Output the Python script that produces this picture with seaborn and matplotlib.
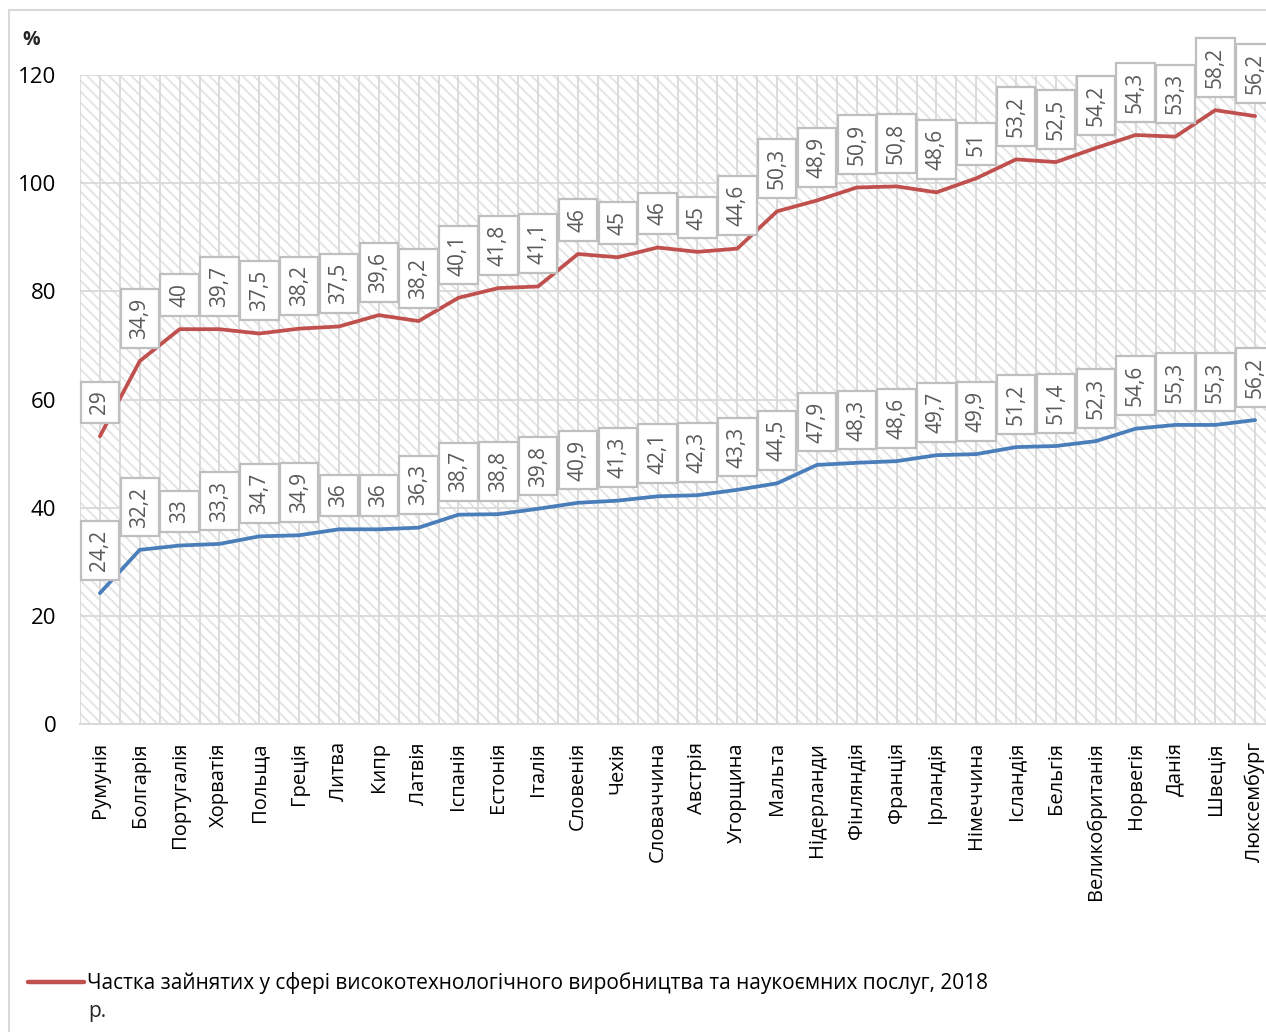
import numpy as np
import pandas as pd
import matplotlib
matplotlib.use("Agg")
import matplotlib.pyplot as plt
from matplotlib.lines import Line2D
from matplotlib.patches import Rectangle
import seaborn as sns

countries = ["Румунія", "Болгарія", "Португалія", "Хорватія", "Польща", "Греція",
             "Литва", "Кипр", "Латвія", "Іспанія", "Естонія", "Італія", "Словенія",
             "Чехія", "Словаччина", "Австрія", "Угорщина", "Мальта", "Нідерланди",
             "Фінляндія", "Франція", "Ірландія", "Німеччина", "Ісландія", "Бельгія",
             "Великобританія", "Норвегія", "Данія", "Швеція", "Люксембург"]

base_share = [24.2, 32.2, 33, 33.3, 34.7, 34.9, 36, 36, 36.3, 38.7, 38.8, 39.8,
              40.9, 41.3, 42.1, 42.3, 43.3, 44.5, 47.9, 48.3, 48.6, 49.7, 49.9,
              51.2, 51.4, 52.3, 54.6, 55.3, 55.3, 56.2]

hightech_share = [29, 34.9, 40, 39.7, 37.5, 38.2, 37.5, 39.6, 38.2, 40.1, 41.8,
                  41.1, 46, 45, 46, 45, 44.6, 50.3, 48.9, 50.9, 50.8, 48.6, 51,
                  53.2, 52.5, 54.2, 54.3, 53.3, 58.2, 56.2]

legend_label = "Частка зайнятих у сфері високотехнологічного виробництва та наукоємних послуг, 2018"
y_ticks = [0, 20, 40, 60, 80, 100, 120]

BLUE = "#4a7ebb"
RED = "#c0504d"
GRID = "#d9d9d9"
FONT = ["Open Sans", "DejaVu Sans"]

sns.set_theme(style="white")
plt.rcParams["font.family"] = FONT
plt.rcParams["hatch.linewidth"] = 1.3

df = pd.DataFrame({"pos": np.arange(len(countries)),
                   "country": countries,
                   "base": base_share,
                   "hightech": hightech_share})
df["stacked"] = df["base"] + df["hightech"]

W, H = 1266, 1032
fig = plt.figure(figsize=(W / 100, H / 100), dpi=100)
fig.patch.set_facecolor("white")

# light outer frame of the chart area
fig.add_artist(Rectangle((9 / W, -0.05), 1.1, 1 - 10 / H + 0.05, transform=fig.transFigure,
                         facecolor="none", edgecolor=GRID, linewidth=1.5))

ax = fig.add_axes([80 / W, 1 - 724 / H, (1275 - 80) / W, (724 - 75) / H])
ax.set_facecolor("white")
ax.add_patch(Rectangle((0, 0), 1, 1, transform=ax.transAxes, facecolor="white",
                       edgecolor="#e3e3e3", linewidth=0, hatch="\\\\\\", zorder=0.1))
ax.set_axisbelow(True)

sns.lineplot(data=df, x="pos", y="base", color=BLUE, linewidth=2.7, ax=ax, zorder=3)
sns.lineplot(data=df, x="pos", y="stacked", color=RED, linewidth=2.7, ax=ax, zorder=3)

ax.set_xlim(-0.5, len(countries) - 0.5)
ax.set_ylim(0, 120)
ax.set_xticks(df["pos"], labels=countries, rotation=90, fontsize=14.5)
ax.set_xticks(np.arange(-0.5, len(countries), 1), minor=True)
ax.set_yticks(y_ticks, labels=[str(v) for v in y_ticks], fontsize=16)
ax.grid(True, which="both", axis="x", color=GRID, linewidth=1.3)
ax.grid(True, which="major", axis="y", color=GRID, linewidth=1.3)
ax.tick_params(axis="x", which="both", length=0, pad=13)
ax.tick_params(axis="y", length=0, pad=17)
for lbl in ax.get_xticklabels() + ax.get_yticklabels():
    lbl.set_color("black")
ax.set_xlabel("")
ax.set_ylabel("")
for side in ["top", "right", "left"]:
    ax.spines[side].set_visible(False)
ax.spines["bottom"].set_color(GRID)
ax.spines["bottom"].set_linewidth(1.5)

# value boxes above each point
box = dict(boxstyle="square,pad=0.42", facecolor="white", edgecolor="#bfbfbf", linewidth=1.6)
for _, r in df.iterrows():
    for yv, txt in [(r["base"], r["base"]), (r["stacked"], r["hightech"])]:
        s = f"{txt:g}".replace(".", ",")
        ax.annotate(s, (r["pos"], yv), xytext=(0, 16), textcoords="offset points",
                    rotation=90, ha="center", va="bottom", fontsize=15,
                    color="#595959", bbox=box, zorder=5, annotation_clip=False)

fig.text(22 / W, 1 - 40 / H, "%", fontsize=14, fontweight="bold", va="center", ha="left")

leg = ax.legend(handles=[Line2D([], [], color=RED, linewidth=3.2)], labels=[legend_label],
                loc="center left", bbox_to_anchor=(28 / W, 1 - 983 / H),
                bbox_transform=fig.transFigure, frameon=False, fontsize=15,
                handlelength=2.7, handletextpad=0.15, borderpad=0, borderaxespad=0)
for t in leg.get_texts():
    t.set_color("black")
fig.text(88 / W, 1 - 1012 / H, "р.", fontsize=15, va="center", ha="left")

fig.savefig("out.png", dpi=100, facecolor="white")
